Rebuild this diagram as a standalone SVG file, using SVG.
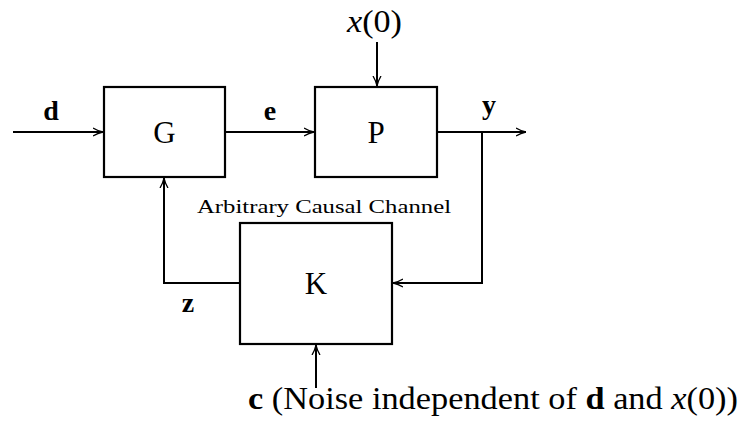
<svg xmlns="http://www.w3.org/2000/svg" width="746" height="423" viewBox="0 0 746 423">
<defs>
<marker id="ah" viewBox="0 0 10 10" refX="10" refY="5" markerWidth="10" markerHeight="10" markerUnits="userSpaceOnUse" orient="auto">
<path d="M0,1 Q5,4 10,5 Q5,6 0,9" fill="none" stroke="#000" stroke-width="1.3"/>
</marker>
<style>
.box{fill:#fff;stroke:#000;stroke-width:2.2}
.ln{fill:none;stroke:#000;stroke-width:2}
.t{font-family:"Liberation Serif","DejaVu Serif",serif;fill:#000}
.big{font-size:31px}
.lbl{font-size:28px;font-weight:bold}
</style>
</defs>
<rect width="746" height="423" fill="#fff"/>
<g id="connectors">
<line class="ln" x1="13" y1="132" x2="103" y2="132" marker-end="url(#ah)"/>
<line class="ln" x1="225" y1="132" x2="314" y2="132" marker-end="url(#ah)"/>
<line class="ln" x1="437" y1="132" x2="526" y2="132" marker-end="url(#ah)"/>
<line class="ln" x1="377" y1="42" x2="377" y2="86" marker-end="url(#ah)"/>
<polyline class="ln" points="482,132 482,283 393,283" marker-end="url(#ah)"/>
<polyline class="ln" points="240,283 164,283 164,178" marker-end="url(#ah)"/>
<line class="ln" x1="316" y1="388" x2="316" y2="345" marker-end="url(#ah)"/>
</g>
<g id="G">
<rect class="box" x="104" y="87" width="121" height="90"/>
<text class="t big" x="164.5" y="143" text-anchor="middle">G</text>
</g>
<g id="P">
<rect class="box" x="315" y="87" width="122" height="90"/>
<text class="t big" x="376" y="143" text-anchor="middle">P</text>
</g>
<g id="K">
<rect class="box" x="240" y="223" width="152" height="121"/>
<text class="t big" x="316" y="294" text-anchor="middle">K</text>
<text class="t" x="324" y="213" text-anchor="middle" font-size="18" textLength="254" lengthAdjust="spacingAndGlyphs">Arbitrary Causal Channel</text>
</g>
<g id="labels">
<text class="t lbl" x="51" y="120" text-anchor="middle">d</text>
<text class="t lbl" x="270" y="120" text-anchor="middle">e</text>
<text class="t lbl" x="489" y="114" text-anchor="middle">y</text>
<text class="t lbl" x="188" y="312" text-anchor="middle">z</text>
<text class="t big" x="347" y="32" textLength="55" lengthAdjust="spacingAndGlyphs"><tspan font-style="italic">x</tspan>(0)</text>
<text class="t big" x="248" y="409" textLength="490" lengthAdjust="spacingAndGlyphs"><tspan font-weight="bold">c</tspan> (Noise independent of <tspan font-weight="bold">d</tspan> and <tspan font-style="italic">x</tspan>(0))</text>
</g>
</svg>
